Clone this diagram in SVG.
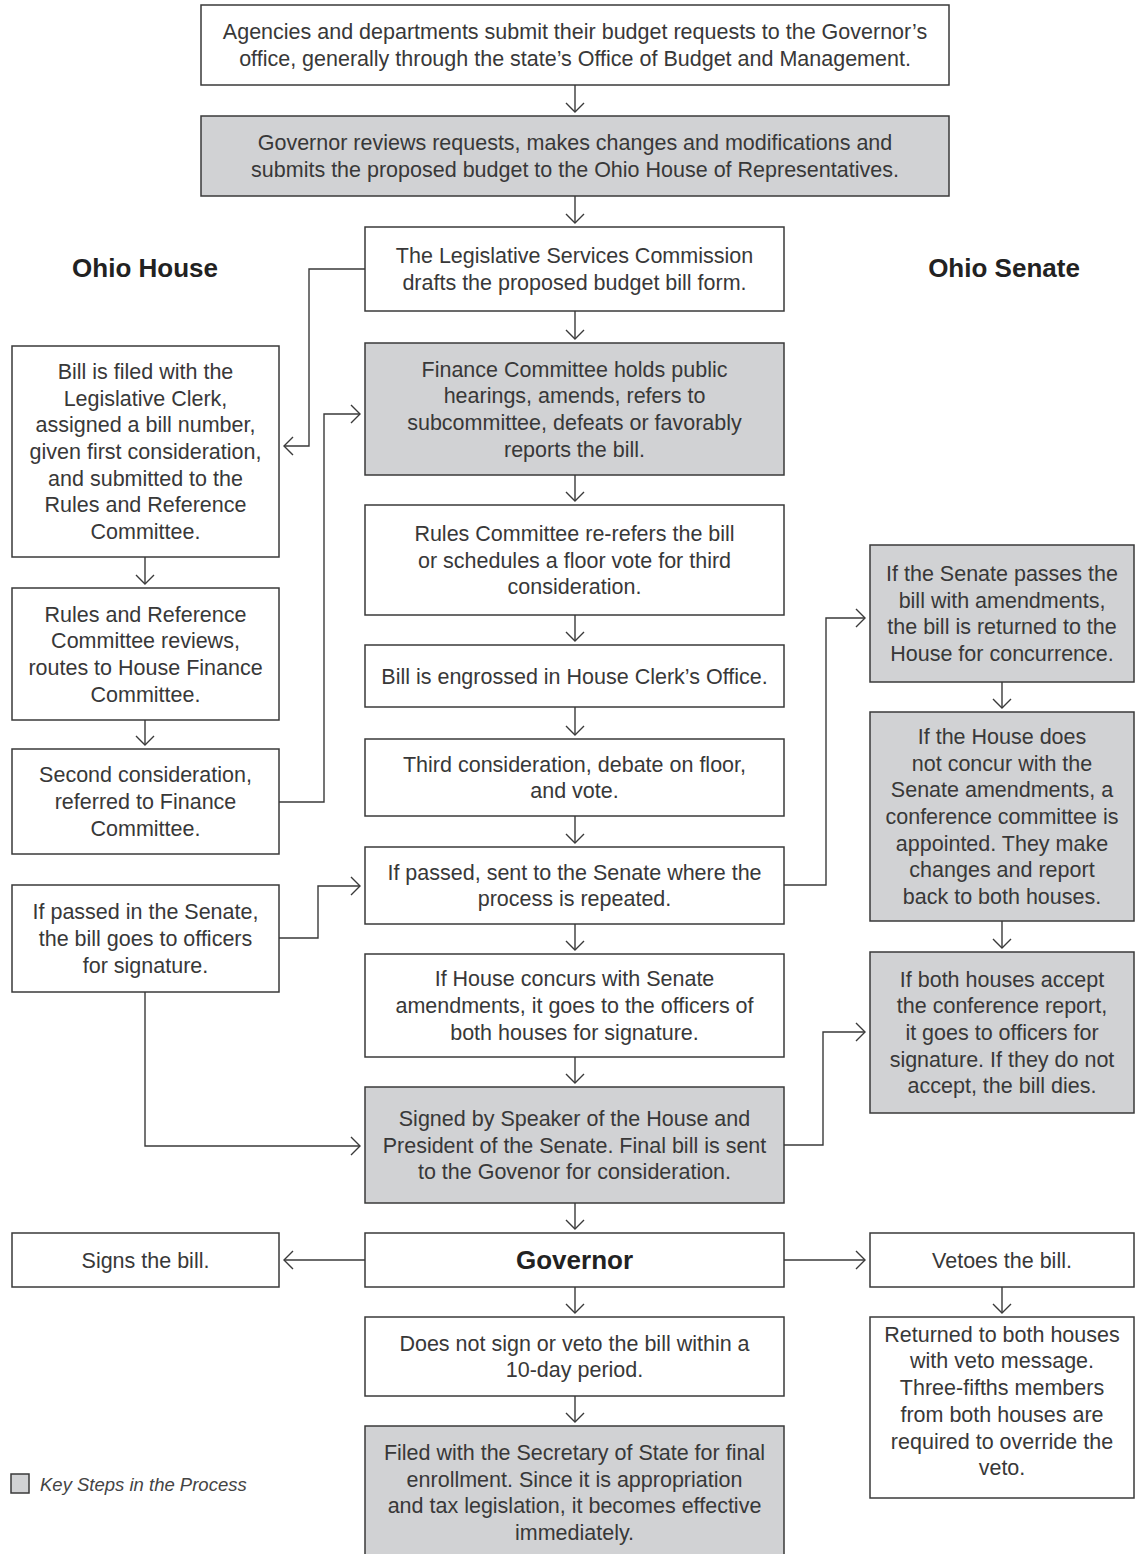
<svg xmlns="http://www.w3.org/2000/svg" width="1135" height="1554" viewBox="0 0 1135 1554">
<style>
.b{fill:#ffffff;stroke:#3a3a3a;stroke-width:1.5}
.k{fill:#d1d2d4;stroke:#3a3a3a;stroke-width:1.5}
text{font-family:"Liberation Sans",Arial,sans-serif;font-size:21.5px;fill:#383838;text-anchor:middle}
.h{font-weight:bold;font-size:26px;fill:#222222}
.c{fill:none;stroke:#3a3a3a;stroke-width:1.4}
.lg{font-style:italic;font-size:18.5px;text-anchor:start;fill:#444444}
</style>
<defs>
<marker id="ah" viewBox="-11 -11 13 22" refX="0" refY="0" markerWidth="13" markerHeight="22" markerUnits="userSpaceOnUse" orient="auto">
<path d="M-9,-9 L0,0 L-9,9" fill="none" stroke="#3a3a3a" stroke-width="1.4"/>
</marker>
</defs>

<text class="h" x="145" y="277">Ohio House</text>
<text class="h" x="1004" y="277">Ohio Senate</text>

<g id="n-agencies"><rect class="b" x="201" y="5" width="748" height="80"/>
<text x="575" y="39.2">Agencies and departments submit their budget requests to the Governor’s</text>
<text x="575" y="65.9">office, generally through the state’s Office of Budget and Management.</text></g>

<g id="n-govreview"><rect class="k" x="201" y="116" width="748" height="80"/>
<text x="575" y="150.2">Governor reviews requests, makes changes and modifications and</text>
<text x="575" y="176.9">submits the proposed budget to the Ohio House of Representatives.</text></g>

<g id="n-lsc"><rect class="b" x="365" y="227" width="419" height="84"/>
<text x="574.5" y="263.2">The Legislative Services Commission</text>
<text x="574.5" y="289.9">drafts the proposed budget bill form.</text></g>

<g id="n-finance"><rect class="k" x="365" y="343" width="419" height="132"/>
<text x="574.5" y="376.5">Finance Committee holds public</text>
<text x="574.5" y="403.2">hearings, amends, refers to</text>
<text x="574.5" y="429.9">subcommittee, defeats or favorably</text>
<text x="574.5" y="456.6">reports the bill.</text></g>

<g id="n-rules"><rect class="b" x="365" y="505" width="419" height="110"/>
<text x="574.5" y="540.8">Rules Committee re-refers the bill</text>
<text x="574.5" y="567.5">or schedules a floor vote for third</text>
<text x="574.5" y="594.2">consideration.</text></g>

<g id="n-engrossed"><rect class="b" x="365" y="645" width="419" height="62"/>
<text x="574.5" y="683.5">Bill is engrossed in House Clerk’s Office.</text></g>

<g id="n-third"><rect class="b" x="365" y="739" width="419" height="77"/>
<text x="574.5" y="771.6">Third consideration, debate on floor,</text>
<text x="574.5" y="798.3">and vote.</text></g>

<g id="n-passed"><rect class="b" x="365" y="847" width="419" height="77"/>
<text x="574.5" y="879.6">If passed, sent to the Senate where the</text>
<text x="574.5" y="906.3">process is repeated.</text></g>

<g id="n-concur"><rect class="b" x="365" y="954" width="419" height="103"/>
<text x="574.5" y="986.3">If House concurs with Senate</text>
<text x="574.5" y="1013">amendments, it goes to the officers of</text>
<text x="574.5" y="1039.7">both houses for signature.</text></g>

<g id="n-signed"><rect class="k" x="365" y="1087" width="419" height="116"/>
<text x="574.5" y="1125.8">Signed by Speaker of the House and</text>
<text x="574.5" y="1152.5">President of the Senate. Final bill is sent</text>
<text x="574.5" y="1179.2">to the Govenor for consideration.</text></g>

<g id="n-governor"><rect class="b" x="365" y="1233" width="419" height="54"/>
<text class="h" x="574.5" y="1269">Governor</text></g>

<g id="n-nosign"><rect class="b" x="365" y="1317" width="419" height="79"/>
<text x="574.5" y="1350.6">Does not sign or veto the bill within a</text>
<text x="574.5" y="1377.3">10-day period.</text></g>

<g id="n-filed"><rect class="k" x="365" y="1426" width="419" height="150"/>
<text x="574.5" y="1460">Filed with the Secretary of State for final</text>
<text x="574.5" y="1486.7">enrollment. Since it is appropriation</text>
<text x="574.5" y="1513.4">and tax legislation, it becomes effective</text>
<text x="574.5" y="1540.1">immediately.</text></g>

<g id="n-filedclerk"><rect class="b" x="12" y="346" width="267" height="211"/>
<text x="145.5" y="378.9">Bill is filed with the</text>
<text x="145.5" y="405.6">Legislative Clerk,</text>
<text x="145.5" y="432.3">assigned a bill number,</text>
<text x="145.5" y="459">given first consideration,</text>
<text x="145.5" y="485.7">and submitted to the</text>
<text x="145.5" y="512.4">Rules and Reference</text>
<text x="145.5" y="539.1">Committee.</text></g>

<g id="n-rulesref"><rect class="b" x="12" y="588" width="267" height="132"/>
<text x="145.5" y="621.5">Rules and Reference</text>
<text x="145.5" y="648.2">Committee reviews,</text>
<text x="145.5" y="674.9">routes to House Finance</text>
<text x="145.5" y="701.6">Committee.</text></g>

<g id="n-second"><rect class="b" x="12" y="749" width="267" height="105"/>
<text x="145.5" y="782.3">Second consideration,</text>
<text x="145.5" y="809">referred to Finance</text>
<text x="145.5" y="835.7">Committee.</text></g>

<g id="n-senatepassed"><rect class="b" x="12" y="885" width="267" height="107"/>
<text x="145.5" y="919.3">If passed in the Senate,</text>
<text x="145.5" y="946">the bill goes to officers</text>
<text x="145.5" y="972.7">for signature.</text></g>

<g id="n-signs"><rect class="b" x="12" y="1233" width="267" height="54"/>
<text x="145.5" y="1267.5">Signs the bill.</text></g>

<g id="n-senateamend"><rect class="k" x="870" y="545" width="264" height="137"/>
<text x="1002" y="581">If the Senate passes the</text>
<text x="1002" y="607.7">bill with amendments,</text>
<text x="1002" y="634.4">the bill is returned to the</text>
<text x="1002" y="661.1">House for concurrence.</text></g>

<g id="n-conference"><rect class="k" x="870" y="712" width="264" height="209"/>
<text x="1002" y="743.9">If the House does</text>
<text x="1002" y="770.6">not concur with the</text>
<text x="1002" y="797.3">Senate amendments, a</text>
<text x="1002" y="824">conference committee is</text>
<text x="1002" y="850.7">appointed. They make</text>
<text x="1002" y="877.4">changes and report</text>
<text x="1002" y="904.1">back to both houses.</text></g>

<g id="n-accept"><rect class="k" x="870" y="952" width="264" height="161"/>
<text x="1002" y="986.6">If both houses accept</text>
<text x="1002" y="1013.3">the conference report,</text>
<text x="1002" y="1040">it goes to officers for</text>
<text x="1002" y="1066.7">signature. If they do not</text>
<text x="1002" y="1093.4">accept, the bill dies.</text></g>

<g id="n-vetoes"><rect class="b" x="870" y="1233" width="264" height="54"/>
<text x="1002" y="1267.5">Vetoes the bill.</text></g>

<g id="n-returned"><rect class="b" x="870" y="1317" width="264" height="181"/>
<text x="1002" y="1341.7">Returned to both houses</text>
<text x="1002" y="1368.4">with veto message.</text>
<text x="1002" y="1395.1">Three-fifths members</text>
<text x="1002" y="1421.8">from both houses are</text>
<text x="1002" y="1448.5">required to override the</text>
<text x="1002" y="1475.2">veto.</text></g>

<g id="legend"><rect class="k" x="11" y="1474" width="18" height="19"/>
<text class="lg" x="40" y="1491">Key Steps in the Process</text></g>

<g id="connectors">
<path class="c" marker-end="url(#ah)" d="M575,85 V112"/>
<path class="c" marker-end="url(#ah)" d="M575,196 V223"/>
<path class="c" marker-end="url(#ah)" d="M575,311 V339"/>
<path class="c" marker-end="url(#ah)" d="M365,269 H309 V446 H284"/>
<path class="c" marker-end="url(#ah)" d="M145,557 V584"/>
<path class="c" marker-end="url(#ah)" d="M145,720 V745"/>
<path class="c" marker-end="url(#ah)" d="M279,802 H324 V414 H360"/>
<path class="c" marker-end="url(#ah)" d="M575,475 V501"/>
<path class="c" marker-end="url(#ah)" d="M575,615 V641"/>
<path class="c" marker-end="url(#ah)" d="M575,707 V735"/>
<path class="c" marker-end="url(#ah)" d="M575,816 V843"/>
<path class="c" marker-end="url(#ah)" d="M784,885 H826 V618 H865"/>
<path class="c" marker-end="url(#ah)" d="M1002,682 V708"/>
<path class="c" marker-end="url(#ah)" d="M1002,921 V948"/>
<path class="c" marker-end="url(#ah)" d="M575,924 V950"/>
<path class="c" marker-end="url(#ah)" d="M575,1057 V1083"/>
<path class="c" marker-end="url(#ah)" d="M279,938 H318 V886 H360"/>
<path class="c" marker-end="url(#ah)" d="M145,992 V1146 H360"/>
<path class="c" marker-end="url(#ah)" d="M784,1145 H823 V1032 H865"/>
<path class="c" marker-end="url(#ah)" d="M575,1203 V1229"/>
<path class="c" marker-end="url(#ah)" d="M365,1260 H284"/>
<path class="c" marker-end="url(#ah)" d="M784,1260 H865"/>
<path class="c" marker-end="url(#ah)" d="M575,1287 V1313"/>
<path class="c" marker-end="url(#ah)" d="M575,1396 V1422"/>
<path class="c" marker-end="url(#ah)" d="M1002,1287 V1313"/>
</g>
</svg>
